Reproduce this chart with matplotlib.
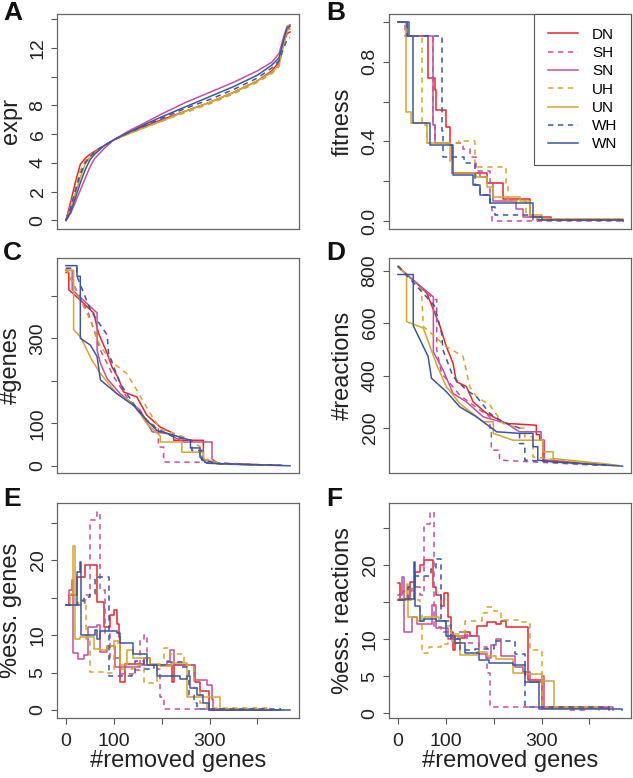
import numpy as np
import matplotlib.pyplot as plt

plt.rcParams['font.family'] = ['Liberation Sans', 'DejaVu Sans']

strains = ['DN', 'SH', 'SN', 'UH', 'UN', 'WH', 'WN']
colors = {'DN': '#e8262b', 'SH': '#c4509c', 'SN': '#c4509c',
          'UH': '#d6a52b', 'UN': '#d6a52b', 'WH': '#3b57a3', 'WN': '#3b57a3'}

## panel A: expression of removed genes (same x grid for all)
expr_x = [0, 10, 20, 30, 40, 50, 60, 80, 100, 130, 160, 200, 250, 300, 350, 400, 430, 445, 455, 462, 468]
expr_y = {
    'DN': [0, 1.3, 2.7, 3.9, 4.3, 4.6, 4.8, 5.2, 5.6, 6.1, 6.5, 7.0, 7.6, 8.2, 8.9, 9.7, 10.4, 11.0, 12.4, 13.0, 13.1],
    'SH': [0, 1.0, 2.2, 3.4, 4.1, 4.5, 4.8, 5.2, 5.6, 6.1, 6.5, 7.0, 7.6, 8.2, 8.9, 9.7, 10.3, 10.8, 12.5, 13.3, 13.4],
    'SN': [0, 0.5, 1.3, 2.1, 2.9, 3.7, 4.3, 5.0, 5.6, 6.2, 6.7, 7.4, 8.2, 8.9, 9.6, 10.4, 11.0, 11.6, 12.8, 13.5, 13.6],
    'UH': [0, 1.0, 2.3, 3.4, 4.1, 4.5, 4.8, 5.2, 5.6, 6.0, 6.4, 6.9, 7.5, 8.1, 8.8, 9.6, 10.2, 10.7, 12.3, 13.5, 13.6],
    'UN': [0, 0.8, 1.9, 3.0, 3.9, 4.4, 4.7, 5.2, 5.6, 6.0, 6.4, 6.9, 7.6, 8.2, 8.9, 9.7, 10.3, 10.8, 12.3, 13.2, 13.3],
    'WH': [0, 0.9, 2.1, 3.2, 4.0, 4.4, 4.8, 5.2, 5.6, 6.1, 6.5, 7.1, 7.8, 8.4, 9.1, 9.9, 10.6, 11.1, 12.0, 12.6, 12.7],
    'WN': [0, 0.6, 1.6, 2.6, 3.5, 4.2, 4.6, 5.2, 5.6, 6.1, 6.6, 7.2, 7.9, 8.6, 9.3, 10.1, 10.8, 11.3, 12.6, 13.4, 13.5],
}

## panel B: fitness (step values)
fit_x = {
    'DN': [0, 19, 63, 77, 80, 101, 108, 112, 185, 219, 275, 320, 469],
    'SH': [0, 14, 74, 77, 135, 150, 164, 192, 196, 470],
    'SN': [0, 19, 74, 77, 108, 112, 171, 185, 199, 247, 262, 290, 470],
    'UH': [0, 16, 51, 60, 128, 160, 226, 230, 268, 290, 470],
    'UN': [0, 17, 28, 60, 108, 112, 164, 185, 199, 254, 275, 300, 470],
    'WH': [0, 19, 91, 94, 138, 160, 171, 192, 202, 282, 470],
    'WN': [0, 24, 32, 67, 115, 157, 171, 192, 282, 300, 470],
}
fit_y = {
    'DN': [1.0, 0.93, 0.72, 0.66, 0.56, 0.47, 0.38, 0.24, 0.19, 0.11, 0.02, 0.005, 0.0],
    'SH': [1.0, 0.93, 0.48, 0.39, 0.36, 0.32, 0.25, 0.07, 0.0, 0.0],
    'SN': [1.0, 0.93, 0.48, 0.39, 0.38, 0.24, 0.22, 0.19, 0.10, 0.06, 0.02, 0.005, 0.0],
    'UH': [1.0, 0.93, 0.48, 0.39, 0.40, 0.27, 0.19, 0.10, 0.03, 0.01, 0.0],
    'UN': [1.0, 0.55, 0.49, 0.39, 0.30, 0.24, 0.22, 0.17, 0.12, 0.10, 0.03, 0.01, 0.0],
    'WH': [1.0, 0.93, 0.45, 0.32, 0.29, 0.18, 0.13, 0.07, 0.03, 0.005, 0.0],
    'WN': [1.0, 0.93, 0.49, 0.38, 0.23, 0.18, 0.13, 0.09, 0.02, 0.005, 0.0],
}

## panel C: #genes
genes_x = {
    'DN': [0, 6, 6, 30, 58, 68, 86, 96, 110, 120, 148, 169, 197, 225, 225, 287, 287, 315, 440],
    'SH': [0, 10, 47, 72, 100, 127, 169, 193, 193, 204, 204, 300, 420],
    'SN': [0, 13, 13, 65, 65, 72, 86, 113, 155, 180, 211, 246, 305, 305, 320, 450],
    'UH': [0, 30, 51, 72, 100, 127, 148, 176, 197, 246, 280, 280, 300, 320, 440],
    'UN': [0, 16, 16, 30, 54, 72, 106, 141, 169, 197, 197, 242, 242, 287, 287, 322, 430],
    'WH': [0, 23, 23, 51, 72, 86, 89, 113, 141, 169, 190, 225, 263, 263, 284, 284, 322, 450],
    'WN': [0, 23, 23, 30, 30, 51, 65, 72, 106, 141, 169, 190, 225, 260, 260, 280, 280, 294, 350, 468],
}
genes_y = {
    'DN': [455, 455, 414, 390, 359, 312, 265, 233, 205, 174, 162, 119, 91, 76, 60, 60, 16, 5, 1],
    'SH': [465, 440, 359, 272, 209, 162, 103, 90, 44, 44, 9, 8, 2],
    'SN': [460, 460, 414, 360, 272, 241, 205, 170, 131, 80, 76, 56, 56, 16, 4, 1],
    'UH': [465, 390, 343, 280, 241, 217, 178, 123, 87, 68, 45, 24, 12, 5, 1],
    'UN': [460, 460, 320, 304, 249, 217, 170, 146, 99, 70, 56, 56, 32, 32, 16, 5, 1],
    'WH': [465, 465, 446, 367, 331, 308, 265, 194, 146, 107, 87, 68, 60, 36, 36, 13, 5, 1],
    'WN': [471, 471, 446, 446, 300, 284, 257, 202, 170, 142, 107, 83, 72, 60, 42, 42, 20, 6, 4, 0],
}

## panel D: #reactions
reac_x = {
    'DN': [0, 18, 35, 60, 74, 88, 101, 115, 122, 143, 157, 185, 226, 289, 289, 296, 296, 303, 303, 440],
    'SH': [0, 60, 77, 81, 81, 91, 129, 171, 192, 192, 195, 195, 212, 212, 420],
    'SN': [0, 18, 74, 74, 94, 115, 143, 178, 226, 254, 299, 299, 306, 306, 450],
    'UH': [0, 49, 53, 101, 136, 150, 164, 192, 219, 254, 265, 265, 282, 282, 430],
    'UN': [0, 18, 18, 53, 67, 81, 101, 129, 178, 199, 199, 240, 303, 303, 324, 324, 428, 460],
    'WH': [0, 49, 77, 91, 94, 115, 143, 164, 192, 219, 254, 254, 265, 265, 440],
    'WN': [0, 32, 32, 63, 70, 101, 129, 164, 206, 254, 282, 282, 292, 292, 324, 469],
}
reac_y = {
    'DN': [815, 785, 759, 715, 651, 587, 511, 447, 377, 358, 300, 256, 218, 211, 175, 175, 154, 154, 78, 60],
    'SH': [818, 715, 690, 690, 498, 409, 326, 269, 243, 200, 200, 116, 116, 78, 58],
    'SN': [815, 785, 700, 490, 422, 332, 300, 243, 218, 186, 186, 154, 154, 78, 58],
    'UH': [818, 727, 587, 511, 473, 358, 320, 288, 218, 200, 200, 167, 167, 90, 60],
    'UN': [815, 785, 606, 581, 511, 441, 358, 294, 224, 224, 180, 154, 154, 110, 110, 84, 65, 58],
    'WH': [818, 721, 664, 562, 498, 396, 345, 320, 256, 224, 200, 141, 141, 78, 58],
    'WN': [785, 785, 590, 473, 390, 339, 281, 243, 186, 180, 180, 129, 129, 78, 71, 55],
}

## panel E: % essential genes (step values)
essg_x = {
    'DN': [0, 6, 23, 40, 65, 79, 93, 100, 106, 110, 113, 124, 162, 176, 221, 225, 270, 280, 298, 440],
    'SH': [0, 23, 40, 51, 65, 72, 82, 93, 113, 141, 155, 162, 169, 190, 197, 204, 400],
    'SN': [0, 6, 13, 15, 26, 37, 45, 65, 72, 86, 103, 124, 155, 211, 218, 225, 256, 267, 294, 305, 308, 450],
    'UH': [0, 26, 42, 51, 86, 100, 113, 141, 162, 190, 204, 218, 246, 267, 280, 295, 420],
    'UN': [0, 9, 15, 19, 30, 58, 72, 86, 100, 113, 127, 141, 176, 197, 220, 253, 322, 420],
    'WH': [0, 33, 37, 51, 61, 89, 113, 138, 145, 162, 183, 211, 242, 256, 267, 274, 450],
    'WN': [0, 23, 30, 31, 61, 65, 72, 106, 113, 141, 169, 190, 239, 253, 260, 274, 287, 298, 468],
}
essg_y = {
    'DN': [14.0, 15.4, 17.7, 19.3, 14.4, 11.1, 12.7, 13.3, 11.5, 9.8, 3.8, 6.2, 6.9, 6.0, 3.8, 6.0, 3.7, 2.5, 0.0, 0.0],
    'SH': [14.0, 14.3, 15.4, 25.3, 26.4, 16.0, 10.2, 7.0, 4.8, 5.3, 9.3, 10.0, 6.0, 5.5, 1.8, 0.15, 0.15],
    'SN': [14.0, 16.0, 17.3, 7.6, 6.8, 7.3, 11.1, 11.3, 7.8, 8.5, 5.8, 5.8, 6.0, 6.5, 8.0, 6.0, 6.0, 4.0, 3.4, 1.5, 0.0, 0.0],
    'UH': [14.0, 14.7, 9.5, 5.1, 5.0, 8.9, 5.5, 6.0, 3.6, 6.0, 8.3, 7.5, 6.0, 3.0, 1.0, 0.3, 0.3],
    'UN': [14.0, 15.5, 21.9, 9.5, 9.8, 8.2, 8.0, 8.5, 9.2, 6.0, 8.0, 6.9, 6.2, 5.9, 6.3, 1.8, 0.2, 0.2],
    'WH': [14.0, 14.5, 15.1, 15.5, 17.7, 4.5, 4.6, 4.9, 6.5, 5.5, 6.0, 6.4, 5.8, 2.0, 1.0, 0.2, 0.2],
    'WN': [14.0, 18.4, 19.8, 10.0, 10.7, 9.5, 10.5, 10.3, 9.0, 7.5, 6.0, 4.5, 4.2, 4.5, 3.0, 2.0, 1.0, 0.0, 0.0],
}

## panel F: % essential reactions (step values)
essr_x = {
    'DN': [0, 4, 25, 35, 45, 55, 74, 80, 90, 97, 105, 110, 115, 120, 130, 140, 150, 165, 185, 205, 215, 225, 271, 300, 440],
    'SH': [0, 10, 30, 45, 55, 67, 75, 90, 110, 125, 145, 170, 185, 193, 350, 390],
    'SN': [0, 8, 12, 27, 30, 40, 55, 72, 80, 105, 120, 170, 183, 195, 205, 215, 245, 262, 275, 300, 305, 450],
    'UH': [0, 20, 45, 50, 65, 90, 105, 120, 140, 175, 185, 200, 215, 250, 275, 295, 300, 420],
    'UN': [0, 18, 22, 40, 55, 85, 100, 110, 130, 165, 185, 205, 240, 265, 300, 325, 420],
    'WH': [0, 20, 35, 70, 80, 90, 110, 130, 160, 190, 200, 245, 265, 440],
    'WN': [0, 15, 33, 35, 45, 55, 80, 100, 120, 140, 170, 190, 240, 265, 295, 468],
}
essr_y = {
    'DN': [17.6, 15.5, 17.8, 19.1, 20.0, 20.7, 17.0, 16.0, 14.5, 16.2, 13.0, 11.0, 8.6, 9.5, 10.2, 11.0, 10.5, 11.8, 12.3, 12.0, 12.5, 11.7, 4.5, 0.7, 0.4],
    'SH': [15.5, 16.5, 17.0, 16.0, 25.5, 27.2, 11.7, 11.0, 10.0, 11.0, 9.5, 9.0, 5.4, 0.85, 0.4, 0.4],
    'SN': [16.0, 18.4, 11.0, 11.0, 13.0, 12.0, 12.0, 14.6, 11.5, 10.0, 10.5, 8.0, 7.5, 9.2, 10.1, 7.7, 6.3, 5.6, 4.2, 5.0, 0.8, 0.4],
    'UH': [15.5, 15.3, 13.5, 8.1, 9.0, 9.4, 9.8, 10.7, 12.4, 13.5, 14.4, 13.8, 12.6, 12.3, 8.6, 8.5, 0.8, 0.4],
    'UN': [15.3, 17.5, 13.0, 12.5, 13.0, 12.5, 11.8, 10.5, 7.9, 8.3, 7.7, 7.4, 5.5, 5.3, 4.3, 0.8, 0.5],
    'WH': [15.3, 17.0, 18.5, 19.5, 20.9, 12.5, 10.0, 8.5, 8.7, 8.7, 9.7, 8.0, 0.8, 0.4],
    'WN': [15.3, 15.5, 20.4, 14.5, 12.5, 12.8, 12.5, 10.5, 9.5, 8.2, 7.2, 6.8, 6.5, 4.2, 0.6, 0.4],
}

W, H = 633, 778
fig = plt.figure(figsize=(W / 100, H / 100), dpi=100)


def add_ax(x0, y0, x1, y1):
    # pixel box (top-left origin) -> figure fraction
    return fig.add_axes([x0 / W, 1 - y1 / H, (x1 - x0) / W, (y1 - y0) / H])


def style(ax, ylim, yticks, ylabels, ylab, bottom=False):
    ax.set_xlim(-18.7, 486.7)
    ax.set_ylim(*ylim)
    for s in ax.spines.values():
        s.set_color('#666666')
        s.set_linewidth(0.9)
    ax.set_yticks(yticks)
    ax.set_yticklabels(ylabels, rotation=90, va='center', fontsize=14, color='#222222')
    ax.tick_params(axis='both', length=4.5, width=0.8, color='#555555', pad=3)
    if bottom:
        ax.set_xticks([0, 100, 200, 300, 400])
        ax.set_xticklabels(['0', '100', '', '300', ''], fontsize=14, color='#222222')
        ax.tick_params(axis='x', pad=6)
        ax.set_xlabel('#removed genes', fontsize=17, color='#222222', labelpad=0)
    else:
        ax.set_xticks([])
    ax.set_ylabel(ylab, fontsize=17, color='#222222')
    ax.yaxis.set_label_coords(-0.145, 0.5)


def draw(ax, xs, ys, steps=False):
    lines = []
    for s in strains:
        x = xs[s] if isinstance(xs, dict) else xs
        ls = (0, (3.5, 3)) if s.endswith('H') else '-'
        ln, = ax.plot(x, ys[s], color=colors[s], lw=1.1, linestyle=ls,
                      drawstyle='steps-post' if steps else 'default', label=s)
        lines.append(ln)
    return lines


axA = add_ax(57, 14, 299, 229)
axB = add_ax(389, 14, 631, 229)
axC = add_ax(57, 258, 299, 473)
axD = add_ax(389, 258, 631, 473)
axE = add_ax(57, 503, 299, 718)
axF = add_ax(389, 503, 631, 718)

draw(axA, expr_x, expr_y)
style(axA, (-0.6, 14.35), [0, 2, 4, 6, 8, 10, 12, 14], ['0', '2', '4', '6', '8', '', '12', ''], 'expr')

lines = draw(axB, fit_x, fit_y, steps=True)
style(axB, (-0.04, 1.04), [0, 0.2, 0.4, 0.6, 0.8, 1.0], ['0.0', '', '0.4', '', '0.8', ''], 'fitness')
leg = axB.legend(lines, strains, loc='upper right', bbox_to_anchor=(1.0, 1.0), borderaxespad=0,
                 fontsize=11, frameon=True, fancybox=False, framealpha=1, handlelength=2.0,
                 handletextpad=0.9, labelspacing=0.28, borderpad=0.9)
leg.get_frame().set_edgecolor('#555555')
leg.get_frame().set_linewidth(0.8)

draw(axC, genes_x, genes_y)
style(axC, (-17, 489), [0, 100, 200, 300, 400], ['0', '100', '', '300', ''], '#genes')

draw(axD, reac_x, reac_y)
style(axD, (29, 848), [200, 400, 600, 800], ['200', '400', '600', '800'], '#reactions')

draw(axE, essg_x, essg_y, steps=True)
style(axE, (-1.06, 27.6), [0, 5, 10, 15, 20, 25], ['0', '5', '10', '', '20', ''], '%ess. genes', bottom=True)

draw(axF, essr_x, essr_y, steps=True)
style(axF, (-0.63, 28.4), [0, 5, 10, 15, 20, 25], ['0', '5', '10', '', '20', ''], '%ess. reactions', bottom=True)

# panel letters
for lab, px, py in [('A', 3, 1), ('B', 326, 1), ('C', 3, 241), ('D', 326, 241), ('E', 3, 487), ('F', 326, 487)]:
    fig.text(px / W, 1 - py / H, lab, fontsize=19, fontweight='bold', va='top', ha='left', color='#111111')

plt.savefig('out.png', dpi=100)
